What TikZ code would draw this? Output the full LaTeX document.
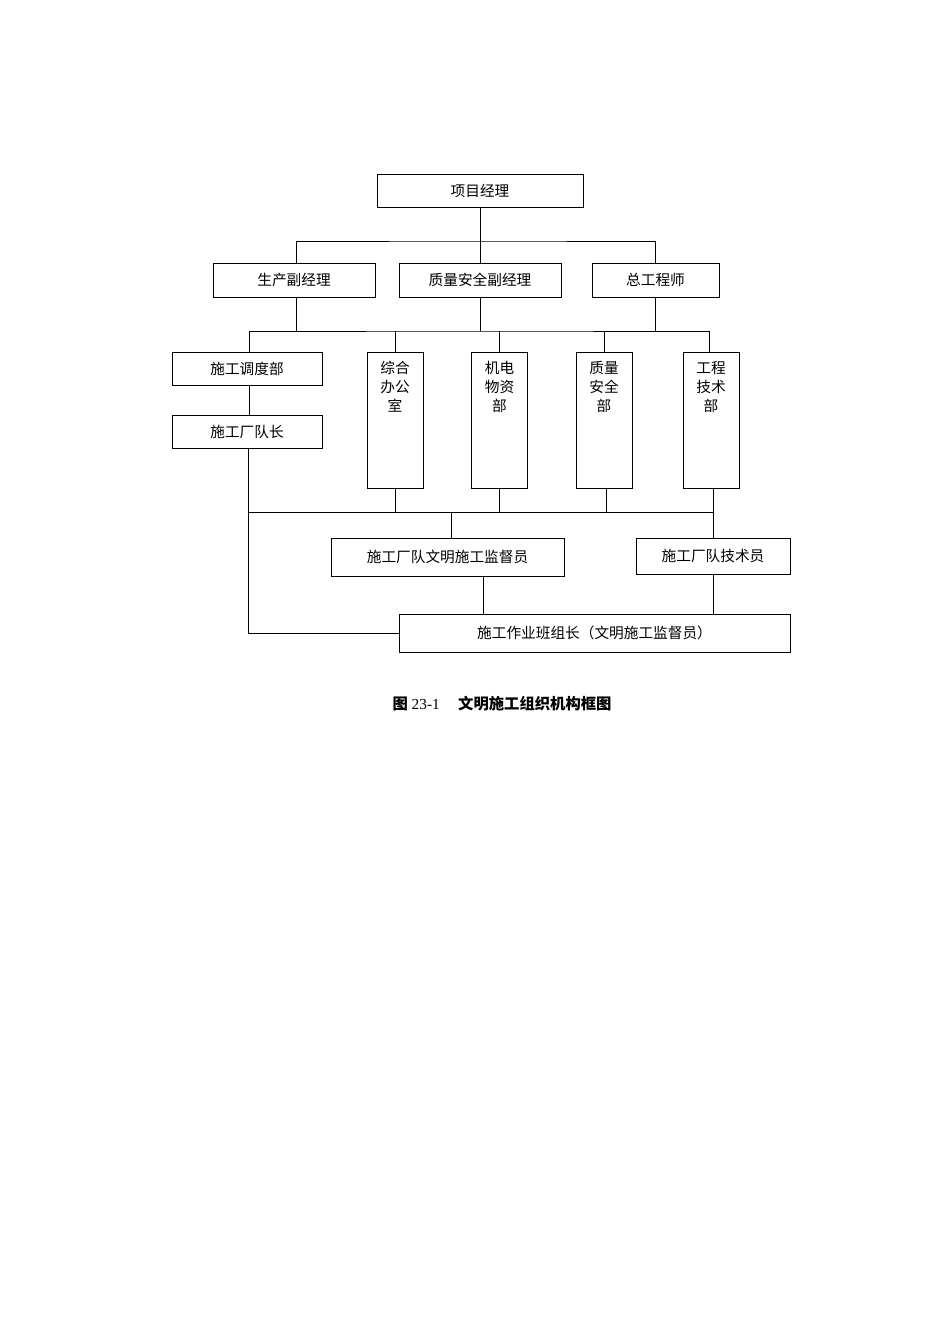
\documentclass[tikz,border=0pt]{standalone}
\usepackage{fontspec}
\setmainfont{Liberation Serif}
\newfontfamily\cjk{Noto Sans CJK SC}
\usepackage{tikz}
\usetikzlibrary{calc}

\begin{document}
\begin{tikzpicture}[x=0.75pt,y=-0.75pt,line width=0.7pt,
		box/.style={draw,rectangle,inner sep=0pt,font=\cjk\fontsize{11}{14}\selectfont},
		tallbox/.style={draw,rectangle,inner sep=0pt,minimum width=56*0.75pt,minimum height=136*0.75pt},
		tallname/.style={anchor=north,align=center,inner sep=7pt,font=\cjk\fontsize{11}{14.2}\selectfont}]
	\useasboundingbox (0,0) rectangle (950,1344); % page, pixel units
	% top level
	\node[box,minimum width=206*0.75pt,minimum height=33*0.75pt] (pm) at (480,190.5) {项目经理};
	\node[box,minimum width=162*0.75pt,minimum height=34*0.75pt] (vpprod) at (294,280) {生产副经理};
	\node[box,minimum width=162*0.75pt,minimum height=34*0.75pt] (vpqual) at (480,280) {质量安全副经理};
	\node[box,minimum width=127*0.75pt,minimum height=34*0.75pt] (chief) at (655.5,280) {总工程师};
	\coordinate (busa) at (480,241);
	\draw (pm) -- (vpqual);
	\draw ([xshift=1.5pt]vpprod.north) |- (busa) -| (chief.north);
	% departments
	\node[box,minimum width=150*0.75pt,minimum height=33*0.75pt] (sched) at (247,368.5) {施工调度部};
	\node[box,minimum width=150*0.75pt,minimum height=33*0.75pt] (lead) at (247,431.5) {施工厂队长};
	\node[tallbox,label={[tallname]north:综合\\办公\\室}] (office) at (395,420) {};
	\node[tallbox,label={[tallname]north:机电\\物资\\部}] (mat) at (499.5,420) {};
	\node[tallbox,label={[tallname]north:质量\\安全\\部}] (safe) at (604,420) {};
	\node[tallbox,label={[tallname]north:工程\\技术\\部}] (tech) at (711,420) {};
	\coordinate (busb) at (480,331);
	\draw ([xshift=2pt]sched.north) |- (busb) -| ([xshift=-1.5pt]tech.north);
	\draw ([xshift=1.5pt]vpprod.south) -- ([xshift=1.5pt]vpprod.south |- busb);
	\draw (vpqual.south) -- (vpqual.south |- busb);
	\draw (chief.south) -- (chief.south |- busb);
	\foreach \d in {office,mat,safe}
		\draw (\d.north) -- (\d.north |- busb);
	\draw ([xshift=2pt]sched.south) -- ([xshift=2pt]lead.north);
	% site staff
	\node[box,minimum width=233*0.75pt,minimum height=38*0.75pt] (super) at (447.5,557) {施工厂队文明施工监督员};
	\node[box,minimum width=154*0.75pt,minimum height=36*0.75pt] (techman) at (713,556) {施工厂队技术员};
	\node[box,minimum width=391*0.75pt,minimum height=38*0.75pt] (crew) at (594.5,633) {施工作业班组长（文明施工监督员）};
	\coordinate (busc) at (480,512);
	\draw ([xshift=0.75pt]lead.south) |- (crew.west);
	\draw ([xshift=0.75pt]lead.south |- busc) -- (techman.north |- busc);
	\foreach \d in {office,mat}
		\draw (\d.south) -- (\d.south |- busc);
	\draw ([xshift=1.5pt]safe.south) -- ([xshift=1.5pt]safe.south |- busc);
	\draw (techman.north |- tech.south) -- (techman.north);
	\draw ([xshift=2.6pt]super.north) -- ([xshift=2.6pt]super.north |- busc);
	\draw ([xshift=27pt]super.south) -- ([xshift=27pt]super.south |- crew.north);
	\draw (techman.south) -- (techman.south |- crew.north);
	% caption
	\node[font=\fontsize{11.5}{14}\selectfont] (cap) at (502,704) {{\cjk\bfseries 图} 23-1\hspace{1.2em}{\cjk\bfseries 文明施工组织机构框图}};
\end{tikzpicture}
\end{document}
